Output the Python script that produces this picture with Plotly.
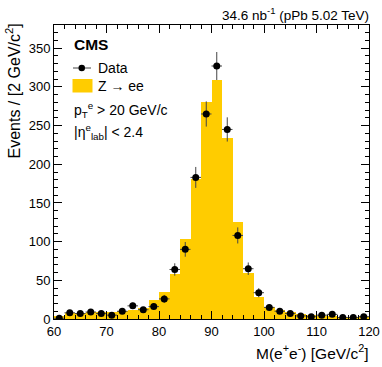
import numpy as np
import plotly.graph_objects as go

# bin centres (2 GeV bins from 60 to 120)
mass = np.arange(61, 120, 2)
data_counts = [1, 8, 7, 9, 7, 5, 10, 17, 12, 16, 26, 64, 90, 183, 265,
               327, 245, 108, 65, 34, 15, 10, 7, 4, 3, 5, 6, 2, 2, 3]
mc_counts = [4, 7.5, 7.5, 8.5, 8.5, 9, 10, 12, 14, 24, 35, 58, 104, 181, 281,
             309, 234, 125, 59, 28, 15, 12, 9, 6.5, 5, 4.5, 4, 3, 3, 3]
data_err = np.sqrt(data_counts)

FONT = "Liberation Sans, Arial, sans-serif"
YELLOW = "#ffcc00"

fig = go.Figure()
fig.add_trace(go.Bar(x=mass, y=mc_counts, width=2, marker_color=YELLOW,
                     marker_line_width=0, name="Z → ee", showlegend=False))
fig.add_trace(go.Scatter(x=mass, y=data_counts, mode="markers",
                         marker=dict(color="black", size=7),
                         error_y=dict(type="data", array=data_err, width=0,
                                      color="#444", thickness=1),
                         error_x=dict(type="constant", value=1, width=0,
                                      color="#444", thickness=1),
                         name="Data", showlegend=False))

# plot area in pixels: x 54..369, y 25..319
def px(x):
    return (x - 54) / 315.0

def py(y):
    return (319 - y) / 294.0

# hand made legend, ROOT style
fig.add_shape(type="line", xref="paper", yref="paper",
              x0=px(73), x1=px(91), y0=py(68), y1=py(68),
              line=dict(color="#444", width=1))
fig.add_shape(type="circle", xref="paper", yref="paper",
              x0=px(78.5), x1=px(85), y0=py(64.8), y1=py(71.3),
              fillcolor="black", line=dict(color="black", width=0))
fig.add_shape(type="rect", xref="paper", yref="paper",
              x0=px(72.5), x1=px(92.5), y0=py(92.5), y1=py(79),
              fillcolor=YELLOW, line=dict(width=0))

texts = [
    ("<b>CMS</b>", 72, 45, 15.5),
    ("Data", 96, 68, 14),
    ("Z → ee", 96, 86, 14),
    ("p<sub>T</sub><sup>e</sup> > 20 GeV/c", 72, 110, 14),
    ("|η<sup>e</sup><sub>lab</sub>| < 2.4", 72, 132, 14),
]
for t, x, y, s in texts:
    fig.add_annotation(text=t, xref="paper", yref="paper", x=px(x), y=py(y),
                       xanchor="left", yanchor="middle", showarrow=False,
                       font=dict(family=FONT, size=s, color="black"))

fig.add_annotation(text="34.6 nb<sup>-1</sup> (pPb 5.02 TeV)", xref="paper",
                   yref="paper", x=px(371), y=py(14), xanchor="right",
                   yanchor="middle", showarrow=False,
                   font=dict(family=FONT, size=13.5, color="black"))

# axis titles, right aligned as in ROOT
fig.add_annotation(text="M(e<sup>+</sup>e<sup>-</sup>) [GeV/c<sup>2</sup>]",
                   xref="paper", yref="paper", x=px(371), y=py(352),
                   xanchor="right", yanchor="middle", showarrow=False,
                   font=dict(family=FONT, size=15.5, color="black"))
fig.add_annotation(text="Events / [2 GeV/c<sup>2</sup>]", textangle=-90,
                   xref="paper", yref="paper", x=px(13), y=py(22),
                   xanchor="center", yanchor="top", showarrow=False,
                   font=dict(family=FONT, size=16, color="black"))

axis_common = dict(showline=True, linecolor="black", linewidth=1,
                   mirror="allticks", ticks="inside", tickcolor="black",
                   tickwidth=1, showgrid=False, zeroline=False,
                   automargin=False,
                   tickfont=dict(family=FONT, size=13, color="black"))

fig.update_xaxes(range=[60, 120], dtick=10, ticklen=8,
                 minor=dict(ticks="inside", dtick=2, ticklen=4,
                            tickcolor="black", showgrid=False),
                 **axis_common)
fig.update_yaxes(range=[0, 380], dtick=50, ticklen=8,
                 minor=dict(ticks="inside", dtick=10, ticklen=4,
                            tickcolor="black", showgrid=False),
                 **axis_common)

fig.update_layout(width=382, height=367, bargap=0,
                  margin=dict(l=54, r=13, t=25, b=48),
                  plot_bgcolor="white", paper_bgcolor="white",
                  font=dict(family=FONT, color="black"))

fig.write_html("out.html", config={"displayModeBar": False},
               post_script="document.body.style.margin='0';"
                           "document.body.style.overflow='hidden';")
